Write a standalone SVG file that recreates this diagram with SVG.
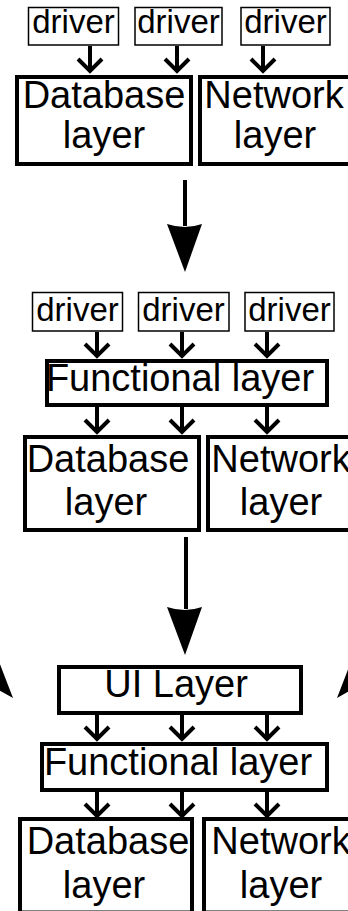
<svg xmlns="http://www.w3.org/2000/svg" width="348" height="911" viewBox="0 0 348 911">
<style>
.bg{fill:#fff}
.box{fill:#fff;stroke:#000;stroke-width:4}
.drv{fill:#fff;stroke:#000;stroke-width:1.5}
.t{font-family:"Liberation Sans",Arial,sans-serif;font-size:38px;fill:#000;text-anchor:middle}
.td{font-family:"Liberation Sans",Arial,sans-serif;font-size:33px;fill:#000;text-anchor:middle}
.ln{fill:none;stroke:#000;stroke-width:4}
.head{fill:#000;stroke:none}
</style>
<rect class="bg" x="0" y="0" width="348" height="911"/>
<g id="connectors">
  <!-- section 1 driver arrows -->
  <path class="ln" d="M90 46V72M78 59L90 71L102 59"/>
  <path class="ln" d="M177 46V72M165 59L177 71L189 59"/>
  <path class="ln" d="M263 46V72M251 59L263 71L275 59"/>
  <!-- big arrow 1 -->
  <path class="ln" d="M185 180V226"/>
  <path class="head" d="M185 272L167 224Q185 230 202 224Z"/>
  <!-- section 2 driver arrows -->
  <path class="ln" d="M97 332V357M85 344L97 356L109 344"/>
  <path class="ln" d="M182 332V357M170 344L182 356L194 344"/>
  <path class="ln" d="M267 332V357M255 344L267 356L279 344"/>
  <!-- functional 1 arrows -->
  <path class="ln" d="M97 407V433M85 420L97 432L109 420"/>
  <path class="ln" d="M182 407V433M170 420L182 432L194 420"/>
  <path class="ln" d="M267 407V433M255 420L267 432L279 420"/>
  <!-- big arrow 2 -->
  <path class="ln" d="M186 537V609"/>
  <path class="head" d="M185 655L167 607Q185 613 202 607Z"/>
  <!-- side arrowheads -->
  <path class="head" d="M13 698L-5 651.3Q-10 666 -30.6 673.7Z"/>
  <path class="head" d="M337 698L355 651.3Q360 666 380.6 673.7Z"/>
  <!-- UI arrows -->
  <path class="ln" d="M97 715V740M85 727L97 739L109 727"/>
  <path class="ln" d="M182 715V740M170 727L182 739L194 727"/>
  <path class="ln" d="M267 715V740M255 727L267 739L279 727"/>
  <!-- functional 2 arrows -->
  <path class="ln" d="M97 792V817M85 804L97 816L109 804"/>
  <path class="ln" d="M182 792V817M170 804L182 816L194 804"/>
  <path class="ln" d="M267 792V817M255 804L267 816L279 804"/>
</g>
<g id="driver1a"><rect class="drv" x="28.5" y="7.5" width="90" height="37.5"/><text class="td" x="73.5" y="32.5">driver</text></g>
<g id="driver1b"><rect class="drv" x="135" y="7.5" width="87" height="37.5"/><text class="td" x="178.5" y="32.5">driver</text></g>
<g id="driver1c"><rect class="drv" x="241" y="7.5" width="89" height="37.5"/><text class="td" x="285.5" y="32.5">driver</text></g>
<g id="database1"><rect class="box" x="17" y="77" width="174" height="87"/><text class="t" x="104" y="108">Database</text><text class="t" x="104" y="148">layer</text></g>
<g id="network1"><rect class="box" x="200" y="77" width="150" height="87"/><text class="t" x="274" y="108">Network</text><text class="t" x="275" y="148">layer</text></g>
<g id="driver2a"><rect class="drv" x="32.5" y="292.5" width="90" height="38.5"/><text class="td" x="77.5" y="321">driver</text></g>
<g id="driver2b"><rect class="drv" x="138.5" y="292.5" width="90.5" height="38.5"/><text class="td" x="183.5" y="321">driver</text></g>
<g id="driver2c"><rect class="drv" x="245" y="292.5" width="89" height="38.5"/><text class="td" x="289.5" y="321">driver</text></g>
<g id="functional1"><rect class="box" x="47" y="361" width="280" height="44"/><text class="t" x="180" y="391">Functional layer</text></g>
<g id="database2"><rect class="box" x="25" y="437" width="174" height="93"/><text class="t" x="108" y="472">Database</text><text class="t" x="106" y="515">layer</text></g>
<g id="network2"><rect class="box" x="208" y="437" width="150" height="93"/><text class="t" x="281" y="472">Network</text><text class="t" x="281" y="515">layer</text></g>
<g id="ui"><rect class="box" x="59" y="667" width="242" height="46"/><text class="t" x="176" y="697">UI Layer</text></g>
<g id="functional2"><rect class="box" x="42" y="744" width="285" height="46"/><text class="t" x="178" y="775">Functional layer</text></g>
<g id="database3"><rect class="box" x="20" y="819" width="172" height="93.5"/><text class="t" x="108" y="854">Database</text><text class="t" x="104" y="898">layer</text></g>
<g id="network3"><rect class="box" x="204" y="819" width="150" height="93.5"/><text class="t" x="281" y="854">Network</text><text class="t" x="281" y="898">layer</text></g>
</svg>
